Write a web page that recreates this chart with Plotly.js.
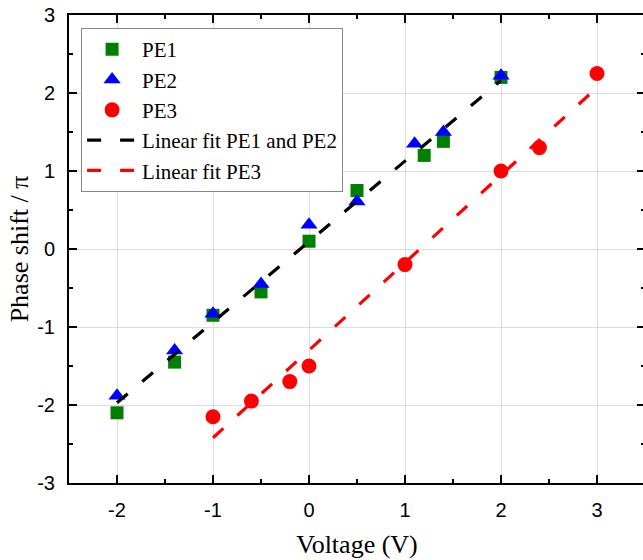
<!DOCTYPE html>
<html><head><meta charset="utf-8">
<script src="https://cdn.plot.ly/plotly-3.0.1.min.js"></script>
<style>html,body{margin:0;padding:0;overflow:hidden;background:#fff}</style>
</head><body><div id="chart"></div>
<script>
const pe1X = [-2, -1.4, -1, -0.5, 0, 0.5, 1.2, 1.4, 2];
const pe1Y = [-2.1, -1.45, -0.85, -0.55, 0.1, 0.75, 1.2, 1.38, 2.2];
const pe2X = [-2, -1.4, -1, -0.5, 0, 0.5, 1.1, 1.4, 2];
const pe2Y = [-1.88, -1.3, -0.83, -0.45, 0.31, 0.61, 1.35, 1.5, 2.22];
const pe3X = [-1, -0.6, -0.2, 0, 1, 2, 2.4, 3];
const pe3Y = [-2.15, -1.95, -1.7, -1.5, -0.2, 1.0, 1.3, 2.25];
const fit12X = [-2, 2];
const fit12Y = [-1.97, 2.16];
const fit3X = [-1, 3];
const fit3Y = [-2.42, 2.07];
const xTickVals = [-2, -1, 0, 1, 2, 3];
const xTickText = ['-2', '-1', '0', '1', '2', '3'];
const yTickVals = [-3, -2, -1, 0, 1, 2, 3];
const yTickText = ['-3', '-2', '-1', '0', '1', '2', '3'];
const names = ['PE1', 'PE2', 'PE3', 'Linear fit PE1 and PE2', 'Linear fit PE3'];

const SERIF = "Liberation Serif, Times New Roman, serif";
const SANS = "Liberation Sans, Arial, sans-serif";

const traces = [
  {x: pe1X, y: pe1Y, name: names[0], mode: 'markers', type: 'scatter',
   marker: {symbol: 'square', size: 13, color: '#008000'}},
  {x: pe2X, y: pe2Y, name: names[1], mode: 'markers', type: 'scatter',
   marker: {symbol: 'triangle-up', size: 15, color: '#0000ff'}},
  {x: pe3X, y: pe3Y, name: names[2], mode: 'markers', type: 'scatter',
   marker: {symbol: 'circle', size: 15, color: '#ff0000'}},
  {x: fit12X, y: fit12Y, name: names[3], mode: 'lines', type: 'scatter',
   line: {color: '#000000', width: 3.2, dash: '14px,19px'}},
  {x: fit3X, y: fit3Y, name: names[4], mode: 'lines', type: 'scatter',
   line: {color: '#ff0000', width: 3.2, dash: '14px,19px'}}
];

const axCommon = {
  showline: true, linecolor: '#000', linewidth: 2, mirror: 'ticks',
  ticks: 'inside', ticklen: 8, tickwidth: 2, tickcolor: '#000',
  showgrid: true, gridcolor: '#dddddd', gridwidth: 1, zeroline: false,
  tickfont: {family: SANS, size: 20, color: '#000'},
  minor: {ticks: 'inside', ticklen: 4, tickwidth: 2, tickcolor: '#000', dtick: 0.5, showgrid: false},
  ticklabelstandoff: 8
};

const layout = {
  width: 652, height: 560,
  margin: {l: 69, r: 7, t: 15, b: 77},
  paper_bgcolor: '#fff', plot_bgcolor: '#fff',
  font: {family: SERIF, color: '#000'},
  showlegend: true,
  legend: {
    x: 0.021, y: 0.972, xanchor: 'left', yanchor: 'top',
    bgcolor: '#fff', bordercolor: '#888', borderwidth: 1,
    font: {family: SERIF, size: 21, color: '#000'},
    itemwidth: 50
  },
  xaxis: Object.assign({}, axCommon, {
    range: [-2.5, 3.5], tickmode: 'array', tickvals: xTickVals, ticktext: xTickText,
    title: {text: 'Voltage (V)', standoff: 15,
      font: {family: SERIF, size: 26, color: '#000'}}
  }),
  yaxis: Object.assign({}, axCommon, {
    range: [-3, 3], tickmode: 'array', tickvals: yTickVals, ticktext: yTickText,
    title: {text: 'Phase shift / π', standoff: 1,
      font: {family: SERIF, size: 26, color: '#000'}}
  })
};

Plotly.newPlot('chart', traces, layout, {displayModeBar: false, staticPlot: true});
</script></body></html>
